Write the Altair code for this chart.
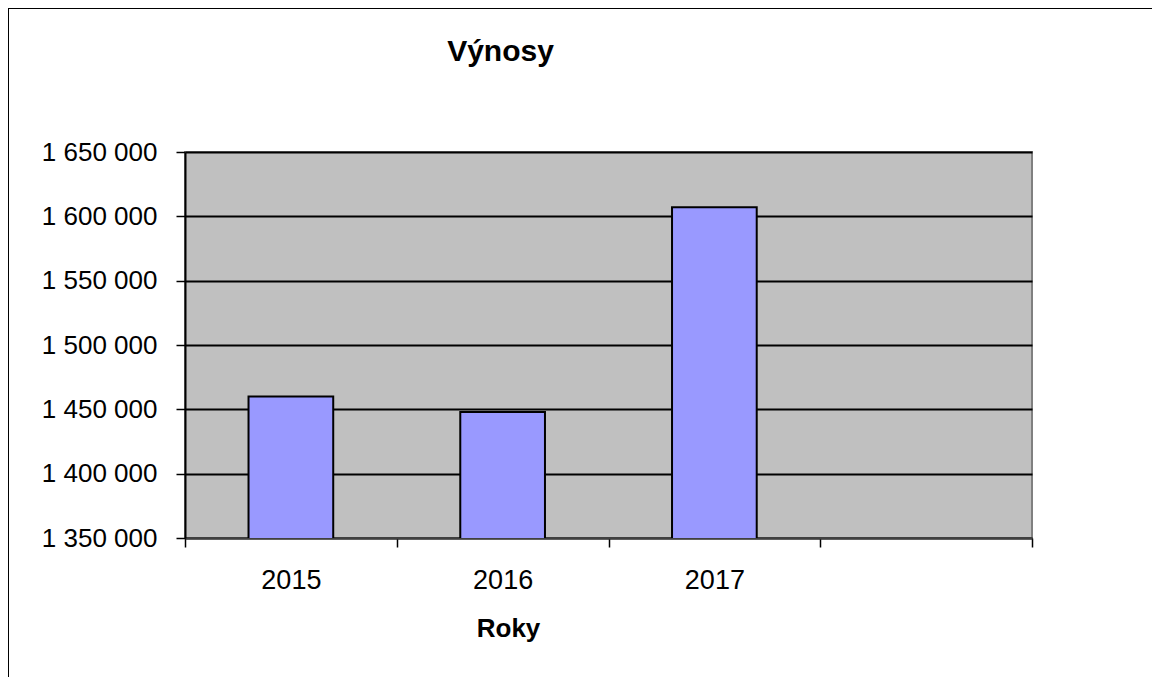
import altair as alt
import pandas as pd

years = ["2015", "2016", "2017"]
values = [1460000, 1448000, 1607000]
domain_cats = ["2015", "2016", "2017", " "]
y_ticks = [1350000, 1400000, 1450000, 1500000, 1550000, 1600000, 1650000]

df = pd.DataFrame({"rok": years, "vynosy": values})
frame_df = pd.DataFrame({"k": [0]})

FONT = "Liberation Sans"

bars = alt.Chart(df).mark_bar(
    color="#9999FF", stroke="#000000", strokeWidth=2,
    width=alt.RelativeBandSize(0.4), clip=True
).encode(
    x=alt.X("rok:N", sort=domain_cats,
            scale=alt.Scale(domain=domain_cats, paddingInner=0, paddingOuter=0),
            axis=alt.Axis(title="Roky", labelAngle=0, tickBand="extent",
                          tickSize=9, tickColor="#000000", tickWidth=1.5,
                          domainColor="#404040", domainWidth=2,
                          labelFont=FONT, labelFontSize=27, labelColor="#000000",
                          labelBaseline="alphabetic", labelPadding=41,
                          titleFont=FONT, titleFontSize=26, titleFontWeight="bold",
                          titleColor="#000000", titleBaseline="alphabetic",
                          titleX=323, titleY=98, titleAnchor="middle", titleAlign="center")),
    y=alt.Y("vynosy:Q",
            scale=alt.Scale(domain=[1350000, 1650000], zero=False, nice=False),
            axis=alt.Axis(title=None, values=y_ticks,
                          labelExpr="join(split(format(datum.value, ',d'), ','), ' ')",
                          tickSize=9, tickColor="#000000", tickWidth=1.5,
                          domainColor="#000000", domainWidth=2,
                          grid=True, gridColor="#000000", gridWidth=2,
                          labelFont=FONT, labelFontSize=26, labelColor="#000000",
                          labelPadding=19))
)

frame = alt.Chart(frame_df).mark_rect(
    fill=None, stroke="#000000", strokeWidth=2, clip=False
).encode(
    x=alt.value(-177), x2=alt.value(1300),
    y=alt.value(-144), y2=alt.value(800)
)

chart = alt.layer(bars, frame).properties(
    width=847, height=386,
    title=alt.TitleParams("Výnosy", font=FONT, fontSize=30, fontWeight="bold",
                          color="#000000", anchor="middle", dx=-108, dy=84,
                          baseline="alphabetic", offset=0, frame="group"),
    autosize=alt.AutoSizeParams(type="none"),
    padding={"left": 177, "top": 144, "right": 120, "bottom": 139},
    background="#FFFFFF"
).configure_view(
    fill="#C0C0C0", stroke="#808080", strokeWidth=2
)

chart.save("out.html", embed_options={"renderer": "svg", "actions": False})
